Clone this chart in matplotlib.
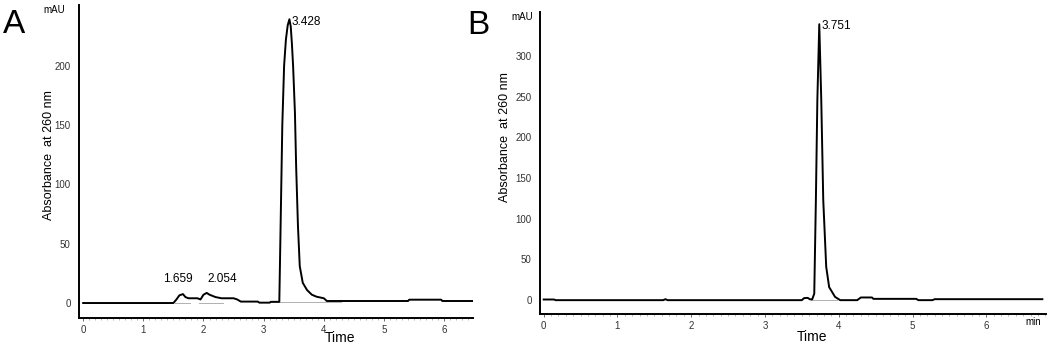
import matplotlib
matplotlib.use("Agg")
import matplotlib.pyplot as plt
import matplotlib.transforms as mtransforms
from matplotlib.ticker import MultipleLocator

plt.rcParams['font.family'] = ['Liberation Sans', 'DejaVu Sans']

# ---- Panel A data (time in min, absorbance in mAU) ----
time_a = [0, 1.50, 1.55, 1.60, 1.659, 1.70, 1.75, 1.80, 1.90, 1.95, 2.00, 2.054, 2.10,
          2.20, 2.30, 2.50, 2.56, 2.62, 2.90, 2.93, 3.10, 3.12, 3.26, 3.27, 3.29, 3.31,
          3.34, 3.37, 3.40, 3.428, 3.45, 3.47, 3.49, 3.52, 3.54, 3.57, 3.60, 3.65, 3.72,
          3.80, 3.88, 4.00, 4.05, 5.40, 5.42, 5.95, 5.97, 6.48]
abs_a = [0, 0, 3, 6.5, 7.5, 5, 4, 4, 4, 3, 7, 8.5, 7,
         5, 4, 4, 3, 1.2, 1.2, 0.3, 0.3, 1, 1, 30, 90, 150,
         200, 222, 234, 239, 233, 218, 199, 160, 115, 65, 31, 17, 11,
         7, 5.3, 4, 1.7, 1.7, 2.8, 2.8, 1.7, 1.7]
peak_times_a = [1.659, 2.054, 3.428]
peak_labels_a = ["1.659", "2.054", "3.428"]
base_a_x = [[1.52, 1.77], [1.93, 2.33], [3.02, 4.28]]
base_a_y = [[0, 0], [0, 0], [0.5, 0.5]]

# ---- Panel B data ----
time_b = [0, 0.14, 0.16, 1.62, 1.65, 1.68, 3.50, 3.53, 3.58, 3.61, 3.64, 3.668, 3.69,
          3.71, 3.736, 3.763, 3.79, 3.83, 3.87, 3.95, 4.02, 4.25, 4.30, 4.45, 4.47,
          5.05, 5.08, 5.27, 5.30, 6.76]
abs_b = [0.8, 0.8, 0, 0, 1.2, 0, 0, 2.5, 2.8, 1, 1, 8, 123,
         246, 339, 246, 123, 41, 16, 4, 0, 0, 3.3, 3.3, 1.6,
         1.6, 0, 0, 1.2, 1.2]
peak_times_b = [3.751]
peak_labels_b = ["3.751"]
base_b_x = [[3.62, 3.97]]
base_b_y = [[0, 0]]

fig = plt.figure(figsize=(10.5, 3.46), dpi=100)

def style(ax, xlim, ylim, yticks):
    ax.set_xlim(*xlim)
    ax.set_ylim(*ylim)
    for s in ['top', 'right']:
        ax.spines[s].set_visible(False)
    for s in ['left', 'bottom']:
        ax.spines[s].set_linewidth(1.4)
    ax.set_yticks(yticks)
    ax.set_xticks(range(0, 7))
    ax.xaxis.set_minor_locator(MultipleLocator(0.1))
    ax.tick_params(axis='y', length=0, pad=6, labelsize=7, labelcolor='#333333')
    ax.tick_params(axis='x', which='major', length=2, width=0.6, pad=3, labelsize=7,
                   color='#555555', labelcolor='#333333')
    ax.tick_params(axis='x', which='minor', length=1.2, width=0.5, color='#999999')

# Panel A
axA = fig.add_axes([0.0752, 0.081, 0.3753, 0.9045])
style(axA, (-0.07, 6.48), (-12.6, 251), [0, 50, 100, 150, 200])
for bx, by in zip(base_a_x, base_a_y):
    axA.plot(bx, by, color='#b0b0b0', lw=0.7)
axA.plot(time_a, abs_a, color='black', lw=1.4)
peak_vals_a = [abs_a[time_a.index(t)] for t in peak_times_a]
axA.text(1.57, 15, peak_labels_a[0], ha='center', va='bottom', fontsize=8.5)
axA.text(2.32, 15, peak_labels_a[1], ha='center', va='bottom', fontsize=8.5)
axA.text(3.47, peak_vals_a[2] - 2, peak_labels_a[2], ha='left', va='center', fontsize=8.5)
axA.set_ylabel("Absorbance  at 260 nm", fontsize=9)
axA.yaxis.set_label_coords(-0.061, 0.52)
axA.text(-0.035, 1.0, "mAU", transform=axA.transAxes, ha='right', va='top', fontsize=7)
trA = mtransforms.blended_transform_factory(axA.transData, axA.transAxes)
axA.text(4.27, -0.064, "Time", transform=trA, ha='center', va='center', fontsize=10)
fig.text(0.003, 0.975, "A", fontsize=24, ha='left', va='top')

# Panel B
axB = fig.add_axes([0.5143, 0.0925, 0.4819, 0.8728])
style(axB, (-0.05, 6.81), (-17, 354), [0, 50, 100, 150, 200, 250, 300])
for bx, by in zip(base_b_x, base_b_y):
    axB.plot(bx, by, color='#b0b0b0', lw=0.7)
axB.plot(time_b, abs_b, color='black', lw=1.4)
axB.text(3.77, 337, peak_labels_b[0], ha='left', va='center', fontsize=8.5)
axB.set_ylabel("Absorbance  at 260 nm", fontsize=9)
axB.yaxis.set_label_coords(-0.057, 0.586)
axB.text(-0.013, 1.0, "mAU", transform=axB.transAxes, ha='right', va='top', fontsize=7)
trB = mtransforms.blended_transform_factory(axB.transData, axB.transAxes)
axB.text(3.64, -0.076, "Time", transform=trB, ha='center', va='center', fontsize=10)
axB.text(0.99, -0.027, "min", transform=axB.transAxes, ha='right', va='center', fontsize=7)
fig.text(0.445, 0.97, "B", fontsize=24, ha='left', va='top')

fig.savefig("out.png", dpi=100)
